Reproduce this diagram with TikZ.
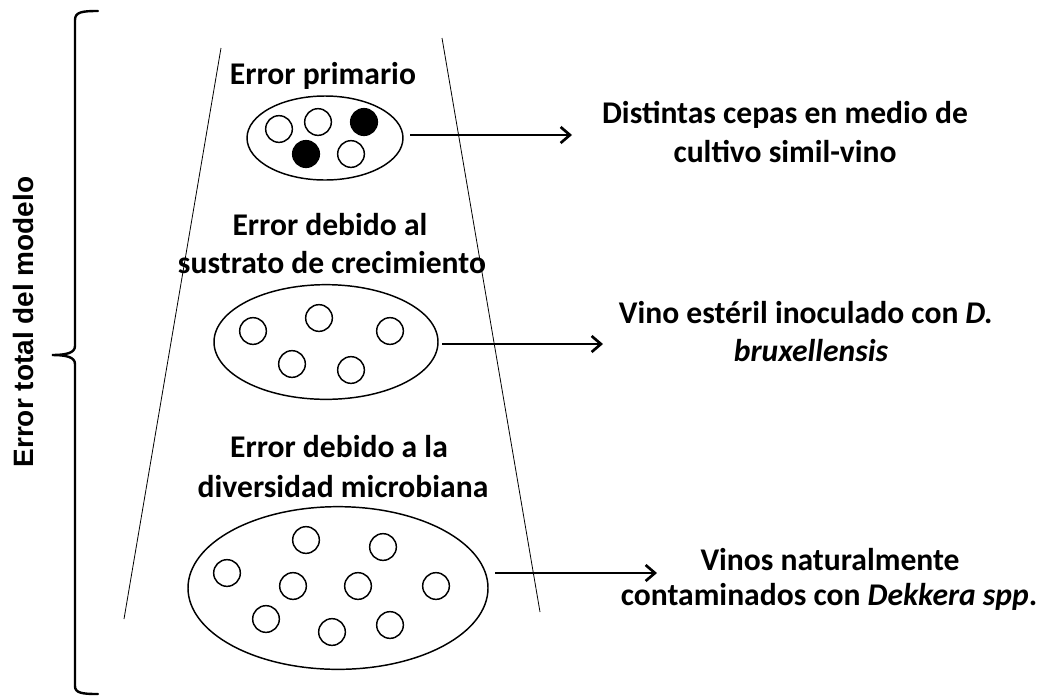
\documentclass[tikz,border=0pt]{standalone}
\usepackage{fontspec}
\setmainfont{Carlito}
\newfontfamily\arialfont{Liberation Sans}
\usetikzlibrary{shapes.geometric,arrows.meta}
\begin{document}
\begin{tikzpicture}[x=0.75pt,y=-0.75pt,
  lbl/.style={font=\fontsize{23.7pt}{29pt}\selectfont\bfseries, anchor=base, inner sep=0pt},
  cell/.style={draw, line width=1.1pt, circle, minimum size=20pt, inner sep=0pt},
  fcell/.style={cell, fill=black},
  group/.style={draw, line width=1.1pt, ellipse, inner sep=0pt},
  arr/.style={line width=2.2pt, -{Straight Barb[length=7pt,width=12pt,line width=2pt]}},
  side/.style={line width=0.6pt},
  brace/.style={line width=1.8pt, line cap=round}]
\useasboundingbox (0,0) rectangle (1044,697);

% trapezoid sides
\draw[side] (221,48) -- (124,619);
\draw[side] (442,38) -- (540,612);

% brace
\draw[brace] (98,11) .. controls (82,11) and (75,12) .. (75,20) -- (75,346)
  .. controls (75,353) and (66,355) .. (52,355)
  .. controls (66,355) and (75,357) .. (75,364) -- (75,686)
  .. controls (75,693) and (82,694) .. (98,694);
\node[font=\arialfont\fontsize{21pt}{24pt}\selectfont\bfseries, rotate=90] (total) at (23,322) {Error total del modelo};

% level 1
\node[lbl] (t1) at (323,84) {Error primario};
\node[group, minimum width=117pt, minimum height=63pt] (e1) at (325,138) {};
\node[cell]  (c11) at (279,129) {};
\node[cell]  (c12) at (318,122) {};
\node[fcell] (c13) at (364,122) {};
\node[fcell] (c14) at (306,154) {};
\node[cell]  (c15) at (351,154) {};

% level 2
\node[lbl] (t2a) at (330,235) {Error debido al};
\node[lbl] (t2b) at (332,273) {sustrato de crecimiento};
\node[group, minimum width=168pt, minimum height=86pt] (e2) at (326,342) {};
\node[cell] (c21) at (253,331) {};
\node[cell] (c22) at (319,318) {};
\node[cell] (c23) at (390,331) {};
\node[cell] (c24) at (292,364) {};
\node[cell] (c25) at (351,370) {};

% level 3
\node[lbl] (t3a) at (339,457) {Error debido a la};
\node[lbl] (t3b) at (343,497) {diversidad microbiana};
\node[group, minimum width=225pt, minimum height=122pt] (e3) at (338,588) {};
\node[cell] (c31) at (306,540) {};
\node[cell] (c32) at (383,547) {};
\node[cell] (c33) at (227,573) {};
\node[cell] (c34) at (293,586) {};
\node[cell] (c35) at (358,586) {};
\node[cell] (c36) at (436,586) {};
\node[cell] (c37) at (266,619) {};
\node[cell] (c38) at (332,632) {};
\node[cell] (c39) at (390,625) {};

% right-hand texts
\node[lbl] (r1a) at (785,123) {Distintas cepas en medio de};
\node[lbl] (r1b) at (785,162) {cultivo simil-vino};
\node[lbl] (r2a) at (806,323) {Vino estéril inoculado con \textit{D.}};
\node[lbl] (r2b) at (811,361) {\textit{bruxellensis}};
\node[lbl] (r3a) at (830,570) {Vinos naturalmente};
\node[lbl] (r3b) at (829,605) {contaminados con \textit{Dekkera spp}.};

% arrows
\coordinate (a1s) at (410,135);
\coordinate (a1e) at (572,135);
\coordinate (a2s) at (442,344);
\coordinate (a2e) at (603,344);
\coordinate (a3s) at (495,573);
\coordinate (a3e) at (657,573);
\draw[arr] (a1s) -- (a1e);
\draw[arr] (a2s) -- (a2e);
\draw[arr] (a3s) -- (a3e);
\end{tikzpicture}
\end{document}
